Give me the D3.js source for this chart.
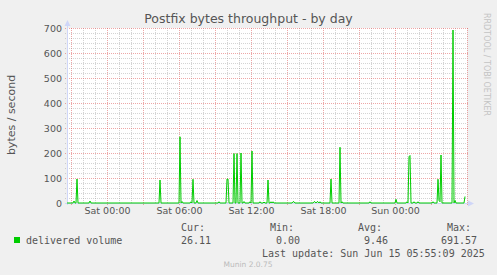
<!DOCTYPE html>
<html><head><meta charset="utf-8">
<script src="https://cdn.jsdelivr.net/npm/d3@7"></script>
<style>
html,body{margin:0;padding:0;background:#F0F0F0;}
svg{display:block;}
text{font-family:"DejaVu Sans",sans-serif;}
.mono{font-family:"DejaVu Sans Mono",monospace;font-size:10px;fill:#555;white-space:pre;}
</style></head>
<body>
<script>
// ---- data ----
const title = "Postfix bytes throughput - by day";
const yLabel = "bytes / second";
const seriesName = "delivered volume";
// sample times (day-of-June HH:MM) and values in bytes / second
const sampleTimes = [
"13 20:40","13 21:10","13 21:15","13 21:20","13 21:25","13 21:30","13 21:35","13 22:30","13 22:35","13 22:40",
"14 04:20","14 04:25","14 04:30","14 06:00","14 06:05","14 06:10","14 06:15","14 06:20","14 06:55","14 07:00",
"14 07:05","14 07:10","14 07:15","14 07:25","14 07:30","14 07:35","14 09:15","14 09:20","14 09:25","14 09:55",
"14 10:00","14 10:05","14 10:10","14 10:30","14 10:35","14 10:40","14 10:45","14 10:50","14 10:55","14 11:05",
"14 11:10","14 11:15","14 11:20","14 11:25","14 11:30","14 11:50","14 11:55","14 12:00","14 12:05","14 12:10",
"14 12:40","14 12:45","14 12:50","14 13:00","14 13:05","14 13:10","14 13:20","14 13:25","14 13:30","14 13:35",
"14 13:40","14 13:45","14 13:50","14 13:55","14 15:25","14 15:30","14 15:35","14 15:40","14 17:10","14 17:15",
"14 17:20","14 17:25","14 17:30","14 17:35","14 17:40","14 17:45","14 17:50","14 18:35","14 18:40","14 18:45",
"14 19:20","14 19:25","14 19:30","14 19:35","14 19:40","14 21:50","14 21:55","14 22:00","15 00:00","15 00:05",
"15 00:10","15 00:55","15 01:00","15 01:05","15 01:10","15 01:15","15 01:20","15 01:30","15 01:35","15 01:40",
"15 01:50","15 01:55","15 02:00","15 03:05","15 03:10","15 03:15","15 03:30","15 03:35","15 03:40","15 03:45",
"15 03:50","15 03:55","15 04:45","15 04:50","15 04:55","15 05:00","15 05:05","15 05:45","15 05:50"
];
const sampleValues = [
0,0,8,0,0,96,0,0,8,0,
0,92,0,0,265,0,6,0,0,5,
0,95,0,0,10,0,0,5,0,0,
96,96,0,0,198,0,0,198,0,0,
200,0,0,6,0,0,5,0,208,0,
0,5,0,0,4,0,0,92,0,0,
5,0,5,0,0,5,5,0,0,5,
5,0,5,5,0,5,0,0,96,0,
0,223,0,5,0,0,5,0,0,15,
0,0,5,0,185,190,0,0,5,0,
0,5,0,0,5,0,0,95,10,5,
192,0,0,692,0,10,0,0,26.11
];
const yTicks = [0,100,200,300,400,500,600,700];
const xTickLabels = ["Sat 00:00","Sat 06:00","Sat 12:00","Sat 18:00","Sun 00:00"];
const legendStats = {cur:"26.11", min:"0.00", avg:"9.46", max:"691.57"};
const lastUpdate = "Last update: Sun Jun 15 05:55:09 2025";
const munin = "Munin 2.0.75";
const vertCredit = "RRDTOOL / TOBI OETIKER";
const startTime = "13 20:40", endTime = "15 06:00";

// ---- drawing ----
const W = 497, H = 275;
const L = 67, R = 467, T = 28, B = 203;
const parse = s => d3.timeParse("%Y-%m-%d %H:%M")("2025-06-" + s);
const data = sampleTimes.map((t,i)=>({t:parse(t), v:sampleValues[i]}));

const svg = d3.select("body").append("svg").attr("width",W).attr("height",H);
svg.append("rect").attr("width",W).attr("height",H).attr("fill","#F0F0F0");

const x = d3.scaleTime().domain([parse(startTime), parse(endTime)]).range([L,R]);
const y = d3.scaleLinear().domain([0,700]).range([B,T]);

svg.append("rect").attr("x",L).attr("y",T).attr("width",R-L).attr("height",B-T).attr("fill","#FFFFFF");

const grid = svg.append("g").attr("shape-rendering","crispEdges");
const minorCol = "rgba(143,143,143,0.38)", majorCol = "rgba(222,79,79,0.5)";
// vertical grid
const hours = x.ticks(d3.timeHour.every(1));
hours.forEach(h=>{
  const major = h.getHours()%3===0;
  const xx = Math.round(x(h))+0.5;
  grid.append("line").attr("x1",xx).attr("x2",xx).attr("y1",T).attr("y2",B+(major?2:0))
    .attr("stroke",major?majorCol:minorCol).attr("stroke-dasharray","1,1");
});
// horizontal grid
d3.range(0,701,20).forEach(v=>{
  const major = v%100===0;
  if (v===0) return;
  const yy = Math.round(y(v))+0.5;
  grid.append("line").attr("x1",L-2).attr("x2",R+(major?2:0)).attr("y1",yy).attr("y2",yy)
    .attr("stroke",major?majorCol:minorCol).attr("stroke-dasharray","1,1");
});

// axes lines
const axisCol = "#CFD6F8";
svg.append("line").attr("x1",L+0.5).attr("x2",L+0.5).attr("y1",B+2).attr("y2",T-5).attr("stroke",axisCol);
svg.append("line").attr("x1",L-2).attr("x2",R+4).attr("y1",B+0.5).attr("y2",B+0.5).attr("stroke",axisCol);
svg.append("path").attr("d",`M${L+0.5},${T-8} L${L-2.5},${T-2} L${L+3.5},${T-2} Z`).attr("fill",axisCol);
svg.append("path").attr("d",`M${R+7},${B+0.5} L${R+1},${B-2.5} L${R+1},${B+3.5} Z`).attr("fill",axisCol);

// y tick labels via axis
const yAxis = d3.axisLeft(y).tickValues(yTicks).tickSize(0).tickPadding(0).tickFormat(d3.format("d"));
const yg = svg.append("g").attr("transform",`translate(${L-5},0)`).call(yAxis);
yg.select(".domain").remove();
yg.selectAll("text").attr("font-family","DejaVu Sans").attr("font-size","9.5px").attr("fill","#555").attr("dy","0.35em");

// x tick labels via axis
const fmt = d3.timeFormat("%a %H:%M");
const xTickDates = x.ticks(d3.timeHour.every(6)).filter(d=>xTickLabels.includes(fmt(d)));
const xAxis = d3.axisBottom(x).tickValues(xTickDates).tickSize(0).tickPadding(0).tickFormat(fmt);
const xg = svg.append("g").attr("transform",`translate(0,${B+4})`).call(xAxis);
xg.select(".domain").remove();
xg.selectAll("text").attr("font-family","DejaVu Sans").attr("font-size","9.5px").attr("fill","#555").attr("dy","0.71em");

// data line
const line = d3.line().x(d=>x(d.t)).y(d=>y(d.v));
svg.append("path").datum(data).attr("d",line).attr("fill","none").attr("stroke","#00CC00").attr("stroke-width",1);

// title and labels
svg.append("text").attr("x",248.5).attr("y",23).attr("text-anchor","middle").attr("font-size","12.5px").attr("fill","#555").text(title);
svg.append("text").attr("transform","translate(14.5,115) rotate(-90)").attr("text-anchor","middle").attr("font-size","11px").attr("fill","#555").text(yLabel);
svg.append("text").attr("transform","translate(484,13) rotate(90)").attr("text-anchor","start").attr("font-size","8px").attr("fill","#c4c4c4").text(vertCredit);

// legend
svg.append("rect").attr("x",14).attr("y",237).attr("width",6).attr("height",6).attr("fill","#00CC00");
const mono = (t,xx,yy)=>svg.append("text").attr("class","mono").attr("x",xx).attr("y",yy).text(t);
mono(seriesName,26,243.5);
mono("Cur:",181,230.5); mono(legendStats.cur,181,243.5);
mono("Min:",270,230.5); mono(legendStats.min,276,243.5);
mono("Avg:",358,230.5); mono(legendStats.avg,364,243.5);
mono("Max:",447,230.5); mono(legendStats.max,441,243.5);
mono(lastUpdate,262,256.5);
svg.append("text").attr("x",248).attr("y",267).attr("text-anchor","middle").attr("font-size","7.5px").attr("fill","#bbb").text(munin);
</script>
</body></html>
